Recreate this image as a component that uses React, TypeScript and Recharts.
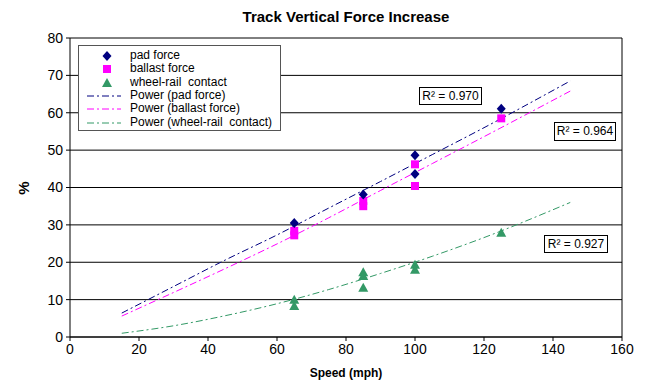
import React from 'react';
import {
  ComposedChart,
  Scatter,
  Line,
  XAxis,
  YAxis,
  CartesianGrid,
  ReferenceLine,
} from 'recharts';

// measured points (speed in mph, increase in %)
const padSpeed = [65, 85, 100, 100, 125];
const padValue = [30.5, 38.1, 48.6, 43.6, 61.1];

const ballastSpeed = [65, 65, 85, 85, 100, 100, 125];
const ballastValue = [28.4, 27.2, 36.4, 35.0, 46.2, 40.4, 58.5];

const wheelSpeed = [65, 65, 85, 85, 85, 100, 100, 125];
const wheelValue = [10.0, 8.3, 17.3, 16.3, 13.2, 19.3, 18.0, 27.9];

// power trendlines
const trendSpeed = [15, 30, 45, 60, 75, 90, 105, 120, 145];
const padTrend = [6.4, 13.5, 20.6, 27.3, 34.5, 41.6, 48.8, 56.0, 68.5];
const ballastTrend = [5.6, 11.9, 18.3, 24.9, 31.9, 39.2, 46.4, 53.6, 65.8];
const wheelTrend = [1.0, 3.0, 5.7, 8.9, 12.7, 17.0, 21.6, 26.6, 36.0];

const xTicks = [0, 20, 40, 60, 80, 100, 120, 140, 160];
const yTicks = [0, 10, 20, 30, 40, 50, 60, 70, 80];

const rSquared = ['R² = 0.970', 'R² = 0.964', 'R² = 0.927'];

const PAD = '#000080';
const BALLAST = '#FF00FF';
const WHEEL = '#339966';
const DASH = '7 3 2 3';
const FONT = 'Arial, "Liberation Sans", Helvetica, sans-serif';

const toPoints = (xs: number[], ys: number[]) => xs.map((x, i) => ({ x, y: ys[i] }));

const Diamond = ({ cx, cy }: any) => (
  <path d={`M${cx},${cy - 5} L${cx + 4.5},${cy} L${cx},${cy + 5} L${cx - 4.5},${cy} Z`} fill={PAD} />
);
const Square = ({ cx, cy }: any) => <rect x={cx - 4} y={cy - 4} width={8} height={8} fill={BALLAST} />;
const Triangle = ({ cx, cy }: any) => (
  <path d={`M${cx},${cy - 5} L${cx + 5},${cy + 4} L${cx - 5},${cy + 4} Z`} fill={WHEEL} />
);

const legendRows = [
  { label: 'pad force', kind: 'diamond' },
  { label: 'ballast force', kind: 'square' },
  { label: 'wheel-rail  contact', kind: 'triangle' },
  { label: 'Power (pad force)', kind: 'line', color: PAD },
  { label: 'Power (ballast force)', kind: 'line', color: BALLAST },
  { label: 'Power (wheel-rail  contact)', kind: 'line', color: WHEEL },
];

function LegendBox() {
  return (
    <div
      style={{
        position: 'absolute',
        left: 78,
        top: 45,
        width: 203,
        height: 86,
        background: 'white',
        border: '1px solid #555',
        boxSizing: 'border-box',
        fontFamily: FONT,
        fontSize: 12,
      }}
    >
      {legendRows.map((row, i) => (
        <div key={i} style={{ position: 'absolute', left: 0, top: 3 + i * 13.3, height: 13, width: 200 }}>
          <svg width={44} height={13} style={{ position: 'absolute', left: 6, top: 0 }}>
            {row.kind === 'diamond' && <Diamond cx={22} cy={7} />}
            {row.kind === 'square' && <Square cx={22} cy={7} />}
            {row.kind === 'triangle' && <Triangle cx={22} cy={7} />}
            {row.kind === 'line' && (
              <line x1={2} x2={36} y1={7} y2={7} stroke={row.color} strokeWidth={1} strokeDasharray={DASH} />
            )}
          </svg>
          <span style={{ position: 'absolute', left: 51, top: -1, whiteSpace: 'pre', color: '#000' }}>{row.label}</span>
        </div>
      ))}
    </div>
  );
}

const rBoxes = [
  { left: 419, top: 87, width: 63, height: 18 },
  { left: 554, top: 122, width: 62, height: 19 },
  { left: 544, top: 235, width: 64, height: 18 },
];

export default function App() {
  return (
    <div style={{ position: 'absolute', left: 0, top: 0, width: 653, height: 383, background: 'white', fontFamily: FONT }}>
      <ComposedChart width={653} height={383} margin={{ top: 38, right: 31, left: 25, bottom: 16 }}>
        <CartesianGrid vertical={false} stroke="#000" strokeWidth={1} />
        <XAxis
          type="number"
          dataKey="x"
          domain={[0, 160]}
          ticks={xTicks}
          height={30}
          stroke="#000"
          tickSize={4}
          tick={{ fill: '#000', fontSize: 14, fontFamily: FONT }}
          tickMargin={3}
        />
        <YAxis
          type="number"
          dataKey="y"
          domain={[0, 80]}
          ticks={yTicks}
          width={45}
          stroke="#000"
          tickSize={4}
          tick={{ fill: '#000', fontSize: 14, fontFamily: FONT }}
          tickMargin={3}
        />
        <ReferenceLine x={160} stroke="#000" />
        <Line data={toPoints(trendSpeed, padTrend)} dataKey="y" type="monotone" stroke={PAD} strokeWidth={1} strokeDasharray={DASH} dot={false} activeDot={false} isAnimationActive={false} />
        <Line data={toPoints(trendSpeed, ballastTrend)} dataKey="y" type="monotone" stroke={BALLAST} strokeWidth={1} strokeDasharray={DASH} dot={false} activeDot={false} isAnimationActive={false} />
        <Line data={toPoints(trendSpeed, wheelTrend)} dataKey="y" type="monotone" stroke={WHEEL} strokeWidth={1} strokeDasharray={DASH} dot={false} activeDot={false} isAnimationActive={false} />
        <Scatter data={toPoints(ballastSpeed, ballastValue)} shape={Square} isAnimationActive={false} />
        <Scatter data={toPoints(padSpeed, padValue)} shape={Diamond} isAnimationActive={false} />
        <Scatter data={toPoints(wheelSpeed, wheelValue)} shape={Triangle} isAnimationActive={false} />
      </ComposedChart>

      <div style={{ position: 'absolute', left: 0, width: 692, top: 8, textAlign: 'center', fontWeight: 'bold', fontSize: 15 }}>
        Track Vertical Force Increase
      </div>
      <div style={{ position: 'absolute', left: 0, width: 692, top: 366, textAlign: 'center', fontWeight: 'bold', fontSize: 12 }}>
        Speed (mph)
      </div>
      <div
        style={{
          position: 'absolute',
          left: 14,
          top: 179,
          width: 20,
          height: 18,
          lineHeight: '18px',
          textAlign: 'center',
          fontWeight: 'bold',
          fontSize: 15,
          transform: 'rotate(-90deg)',
        }}
      >
        %
      </div>

      <LegendBox />

      {rBoxes.map((b, i) => (
        <div
          key={i}
          style={{
            position: 'absolute',
            left: b.left,
            top: b.top,
            width: b.width,
            height: b.height,
            border: '1px solid #000',
            background: 'white',
            boxSizing: 'border-box',
            fontSize: 12,
            lineHeight: `${b.height - 2}px`,
            textAlign: 'center',
          }}
        >
          {rSquared[i]}
        </div>
      ))}
    </div>
  );
}
